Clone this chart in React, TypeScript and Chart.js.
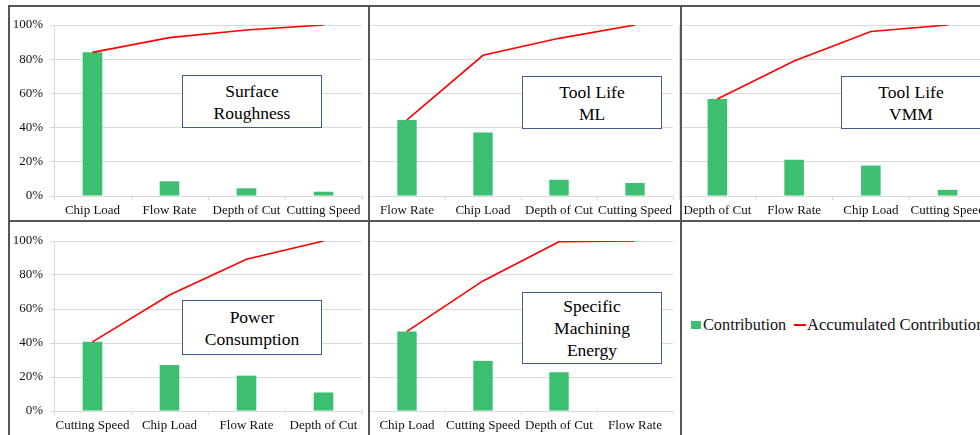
import React, { useEffect, useRef } from "react";
import { Chart, registerables } from "chart.js";
Chart.register(...registerables);

// ---- data ----
const srCats = ["Chip Load", "Flow Rate", "Depth of Cut", "Cutting Speed"];
const srContrib = [84, 8.6, 4.5, 2.5];
const srCum = [84, 92.6, 97.1, 100];

const tlmlCats = ["Flow Rate", "Chip Load", "Depth of Cut", "Cutting Speed"];
const tlmlContrib = [44.5, 37.2, 9.5, 7.6];
const tlmlCum = [44.5, 82.3, 92.2, 100];

const tlvmmCats = ["Depth of Cut", "Flow Rate", "Chip Load", "Cutting Speed"];
const tlvmmContrib = [56.7, 21.2, 17.8, 3.6];
const tlvmmCum = [56.7, 78.9, 96.2, 100];

const pcCats = ["Cutting Speed", "Chip Load", "Flow Rate", "Depth of Cut"];
const pcContrib = [40.7, 27.1, 20.8, 10.9];
const pcCum = [40.7, 68.2, 89.3, 100];

const smeCats = ["Chip Load", "Cutting Speed", "Depth of Cut", "Flow Rate"];
const smeContrib = [46.8, 29.5, 22.8, 0];
const smeCum = [46.8, 76.5, 99.6, 100];

const yTicks = [0, 20, 40, 60, 80, 100];

const seriesNames = ["Contribution", "Accumulated Contribution"];

// ---- styles ----
const FONT = "'Liberation Serif', 'Times New Roman', serif";
const GREEN = "#3cbf70";
const RED = "#ff0000";
const GRID = "#d9d9d9";
const TEXT = "#111111";
const FRAME = "#555555";

type PanelProps = {
  cats: string[];
  contrib: number[];
  cum: number[];
  showY: boolean;
  left: number;
  top: number;
  width: number;
  height: number;
  padTop: number;
  padRight: number;
  yWidth: number;
  xHeight: number;
};

function Pareto(p: PanelProps) {
  const ref = useRef<HTMLCanvasElement>(null);
  useEffect(() => {
    const chart = new Chart(ref.current as HTMLCanvasElement, {
      type: "bar",
      data: {
        labels: p.cats,
        datasets: [
          {
            type: "line",
            label: seriesNames[1],
            data: p.cum,
            borderColor: RED,
            backgroundColor: RED,
            borderWidth: 1.6,
            pointRadius: 0,
            tension: 0,
            fill: false,
            order: 0,
          } as any,
          {
            type: "bar",
            label: seriesNames[0],
            data: p.contrib,
            backgroundColor: GREEN,
            barPercentage: 0.255,
            categoryPercentage: 1,
            order: 1,
          } as any,
        ],
      },
      options: {
        responsive: false,
        animation: false,
        events: [],
        layout: { padding: { top: p.padTop, right: p.padRight, left: 0, bottom: 0 } },
        plugins: { legend: { display: false }, tooltip: { enabled: false } },
        scales: {
          x: {
            offset: true,
            grid: { offset: true, drawOnChartArea: false, color: GRID, tickLength: 4 },
            border: { color: GRID },
            ticks: {
              font: { family: FONT, size: 13 },
              color: TEXT,
              padding: 3,
              maxRotation: 0,
              autoSkip: false,
            },
            afterFit: (s: any) => {
              s.height = p.xHeight;
            },
          },
          y: {
            min: 0,
            max: 100,
            afterBuildTicks: (s: any) => {
              s.ticks = yTicks.map((v) => ({ value: v }));
            },
            ticks: {
              display: p.showY,
              callback: (v: any) => v + "%",
              font: { family: FONT, size: 13 },
              color: TEXT,
              padding: 7,
            },
            grid: { color: GRID, tickLength: p.showY ? 4 : 0, drawTicks: p.showY },
            border: { color: GRID },
            afterFit: (s: any) => {
              s.width = p.yWidth;
            },
          },
        },
      },
    } as any);
    return () => chart.destroy();
  }, []);
  return (
    <canvas
      ref={ref}
      width={p.width}
      height={p.height}
      style={{ position: "absolute", left: p.left, top: p.top, width: p.width, height: p.height }}
    />
  );
}

function Box(props: { left: number; top: number; width: number; height: number; lines: string[] }) {
  return (
    <div
      style={{
        position: "absolute",
        left: props.left,
        top: props.top,
        width: props.width,
        height: props.height,
        boxSizing: "border-box",
        border: "1.5px solid #3b5f8c",
        background: "#ffffff",
        display: "flex",
        flexDirection: "column",
        justifyContent: "center",
        alignItems: "center",
        fontFamily: FONT,
        fontSize: 17.5,
        lineHeight: "22px",
        color: "#000",
      }}
    >
      {props.lines.map((l, i) => (
        <div key={i}>{l}</div>
      ))}
    </div>
  );
}

function Line(props: { left: number; top: number; width: number; height: number }) {
  return (
    <div
      style={{
        position: "absolute",
        left: props.left,
        top: props.top,
        width: props.width,
        height: props.height,
        background: FRAME,
      }}
    />
  );
}

export default function App() {
  return (
    <div
      style={{
        position: "absolute",
        left: 0,
        top: 0,
        width: 980,
        height: 435,
        overflow: "hidden",
        background: "#fff",
      }}
    >
      <Pareto cats={srCats} contrib={srContrib} cum={srCum} showY={true}
        left={8} top={7} width={360} height={214} padTop={18} padRight={6} yWidth={46} xHeight={25} />
      <Pareto cats={tlmlCats} contrib={tlmlContrib} cum={tlmlCum} showY={false}
        left={369} top={7} width={312} height={214} padTop={18} padRight={8} yWidth={0} xHeight={25} />
      <Pareto cats={tlvmmCats} contrib={tlvmmContrib} cum={tlvmmCum} showY={false}
        left={679} top={7} width={312} height={214} padTop={18} padRight={5} yWidth={0} xHeight={25} />
      <Pareto cats={pcCats} contrib={pcContrib} cum={pcCum} showY={true}
        left={8} top={221} width={360} height={214} padTop={20} padRight={6} yWidth={46} xHeight={24} />
      <Pareto cats={smeCats} contrib={smeContrib} cum={smeCum} showY={false}
        left={369} top={221} width={312} height={214} padTop={20} padRight={8} yWidth={0} xHeight={24} />

      <Box left={182} top={75} width={140} height={53} lines={["Surface", "Roughness"]} />
      <Box left={522} top={76} width={140} height={53} lines={["Tool Life", "ML"]} />
      <Box left={841} top={76} width={140} height={53} lines={["Tool Life", "VMM"]} />
      <Box left={182} top={300} width={140} height={55} lines={["Power", "Consumption"]} />
      <Box left={522} top={292} width={140} height={72} lines={["Specific", "Machining", "Energy"]} />

      {/* frame */}
      <Line left={8} top={5} width={972} height={1.5} />
      <Line left={8} top={220} width={972} height={1.5} />
      <Line left={8} top={5} width={1.5} height={430} />
      <Line left={368} top={5} width={1.5} height={430} />
      <Line left={680} top={5} width={1.5} height={430} />

      {/* legend */}
      <div style={{ position: "absolute", left: 691, top: 321, width: 10, height: 8, background: GREEN }} />
      <div
        style={{
          position: "absolute",
          left: 703,
          top: 315,
          fontFamily: FONT,
          fontSize: 16.3,
          lineHeight: "20px",
          color: TEXT,
          whiteSpace: "nowrap",
        }}
      >
        {seriesNames[0]}
      </div>
      <div style={{ position: "absolute", left: 794, top: 324, width: 12, height: 2, background: RED }} />
      <div
        style={{
          position: "absolute",
          left: 807,
          top: 315,
          fontFamily: FONT,
          fontSize: 16.6,
          lineHeight: "20px",
          color: TEXT,
          whiteSpace: "nowrap",
        }}
      >
        {seriesNames[1]}
      </div>
    </div>
  );
}
